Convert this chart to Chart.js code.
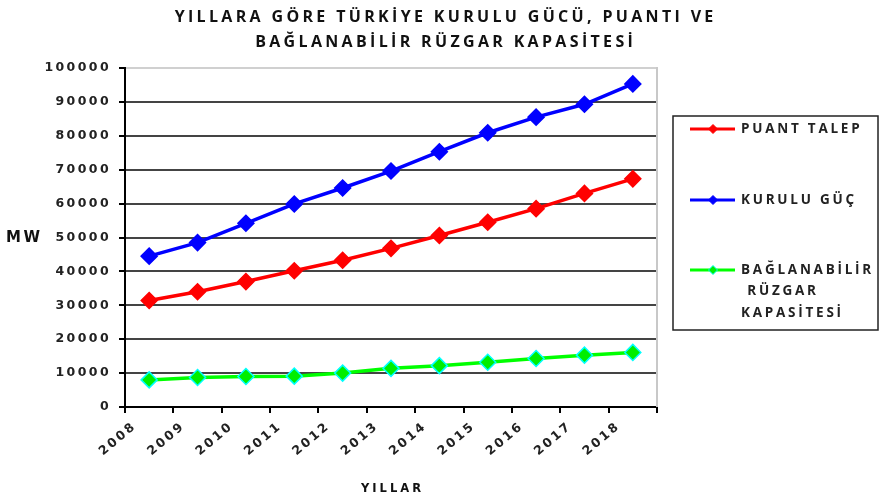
<!DOCTYPE html>
<html><head><meta charset="utf-8">
<script src="https://cdn.jsdelivr.net/npm/chart.js@4.4.0/dist/chart.umd.min.js"></script>
<style>html,body{margin:0;padding:0;background:#fff}#wrap{width:882px;height:498px}</style>
</head><body><div id="wrap"><canvas id="c" width="882" height="498"></canvas></div>
<script>
const years = [2008, 2009, 2010, 2011, 2012, 2013, 2014, 2015, 2016, 2017, 2018];
const puantTalep = [31400, 34000, 37000, 40200, 43300, 46800, 50600, 54500, 58500, 63000, 67300];
const kuruluGuc = [44500, 48500, 54200, 59900, 64600, 69600, 75300, 80900, 85500, 89300, 95300];
const ruzgarKapasite = [8000, 8700, 9000, 9100, 10000, 11400, 12200, 13200, 14300, 15300, 16100];
const titleLines = ['YILLARA GÖRE TÜRKİYE KURULU GÜCÜ, PUANTI VE', 'BAĞLANABİLİR RÜZGAR KAPASİTESİ'];
const seriesLabels = [['PUANT TALEP'], ['KURULU GÜÇ'], ['BAĞLANABİLİR', ' RÜZGAR', 'KAPASİTESİ']];
const xTitle = 'YILLAR';
const yTitle = 'MW';

function pts(vals) { return years.map((yr, i) => ({ x: yr + 0.5, y: vals[i] })); }

function fitSpacing(ctx, text, target) {
  ctx.letterSpacing = '0px';
  const w = ctx.measureText(text).width;
  return Math.max(0, (target - w) / text.length);
}

const deco = {
  id: 'deco',
  beforeDraw(chart) { chart.ctx.letterSpacing = '2.4px'; },
  beforeDatasetsDraw(chart) {
    const ctx = chart.ctx, a = chart.chartArea;
    ctx.save();
    ctx.strokeStyle = '#c8c8c8'; ctx.lineWidth = 2;
    ctx.beginPath(); ctx.moveTo(a.right, a.top - 1); ctx.lineTo(a.right, a.bottom); ctx.stroke();
    ctx.restore();
  },
  afterDraw(chart) {
    const ctx = chart.ctx, a = chart.chartArea;
    ctx.save();
    ctx.fillStyle = '#111'; ctx.textAlign = 'center'; ctx.textBaseline = 'middle';
    ctx.font = 'bold 16px "Open Sans", sans-serif';
    const ts = fitSpacing(ctx, titleLines[0], 542);
    ctx.letterSpacing = ts + 'px';
    titleLines.forEach((t, i) => ctx.fillText(t, 444 + ts / 2, 17 + i * 25.5));
    // axis titles
    ctx.font = 'bold 11.5px "DejaVu Sans", sans-serif';
    ctx.letterSpacing = '3px';
    ctx.fillText(xTitle, (a.left + a.right) / 2 + 1.5, 489);
    ctx.font = 'bold 15px "DejaVu Sans", sans-serif';
    ctx.letterSpacing = '2.5px';
    ctx.textAlign = 'left';
    ctx.fillText(yTitle, 6, 238);
    // legend
    ctx.strokeStyle = '#222'; ctx.lineWidth = 1.5;
    ctx.strokeRect(673, 116, 205, 214);
    const ys = [129, 200, 270];
    ctx.font = 'bold 13.5px "Open Sans", sans-serif';
    const ls = Math.min(fitSpacing(ctx, seriesLabels[0][0], 128), fitSpacing(ctx, seriesLabels[2][0], 133));
    chart.data.datasets.forEach((ds, i) => {
      const y = ys[i];
      ctx.strokeStyle = ds.borderColor; ctx.lineWidth = 3;
      ctx.beginPath(); ctx.moveTo(690, y); ctx.lineTo(735, y); ctx.stroke();
      ctx.fillStyle = ds.pointBackgroundColor; ctx.strokeStyle = ds.pointBorderColor; ctx.lineWidth = 1;
      const r = 4.5;
      ctx.beginPath(); ctx.moveTo(713 - r, y); ctx.lineTo(713, y - r); ctx.lineTo(713 + r, y); ctx.lineTo(713, y + r); ctx.closePath();
      ctx.fill(); ctx.stroke();
      ctx.fillStyle = '#222'; ctx.textAlign = 'left';
      ctx.letterSpacing = ls + 'px';
      seriesLabels[i].forEach((ln, j) => ctx.fillText(ln, 741, y + j * 21.5));
    });
    ctx.restore();
  }
};

new Chart(document.getElementById('c'), {
  type: 'line',
  data: {
    datasets: [
      { label: seriesLabels[0].join(' '), data: pts(puantTalep), borderColor: '#ff0000', backgroundColor: '#ff0000',
        pointBackgroundColor: '#ff0000', pointBorderColor: '#ff0000' },
      { label: seriesLabels[1].join(' '), data: pts(kuruluGuc), borderColor: '#0000ff', backgroundColor: '#0000ff',
        pointBackgroundColor: '#0000ff', pointBorderColor: '#0000ff' },
      { label: seriesLabels[2].join(' '), data: pts(ruzgarKapasite), borderColor: '#00ff00', backgroundColor: '#00ff00',
        pointBackgroundColor: '#00ee00', pointBorderColor: '#00ffff' }
    ]
  },
  options: {
    responsive: false,
    animation: false,
    elements: {
      line: { borderWidth: 3.5, tension: 0 },
      point: { pointStyle: 'rectRot', radius: 8, borderWidth: 1.5 }
    },
    layout: { padding: { top: 68, right: 225, left: 0, bottom: 0 } },
    plugins: { legend: { display: false }, title: { display: false }, tooltip: { enabled: false } },
    scales: {
      x: {
        type: 'linear', min: 2008, max: 2019,
        afterFit(s) { s.height = 91; },
        afterBuildTicks(s) { s.ticks = years.concat([2019]).map(v => ({ value: v })); },
        ticks: {
          stepSize: 1, autoSkip: false, minRotation: 40, maxRotation: 40, padding: 6, labelOffset: 10, color: '#222',
          font: { family: 'DejaVu Sans', weight: 'bold', size: 12.5 },
          callback: v => years.includes(v) ? String(v) : ''
        },
        grid: { drawOnChartArea: false, drawTicks: true, tickLength: 6, color: '#000', lineWidth: 2 },
        border: { color: '#000', width: 2 }
      },
      y: {
        min: 0, max: 100000,
        afterFit(s) { s.width = 125; },
        ticks: { stepSize: 10000, padding: 8, color: '#222', font: { family: 'DejaVu Sans', weight: 'bold', size: 12.5 },
          callback: v => String(v) },
        grid: { color: c => (c.tick && c.tick.value === 100000) ? '#d0d0d0' : '#444', lineWidth: 2, tickColor: '#000', tickLength: 6 },
        border: { color: '#000', width: 2 }
      }
    }
  },
  plugins: [deco]
});
</script>
</body></html>
